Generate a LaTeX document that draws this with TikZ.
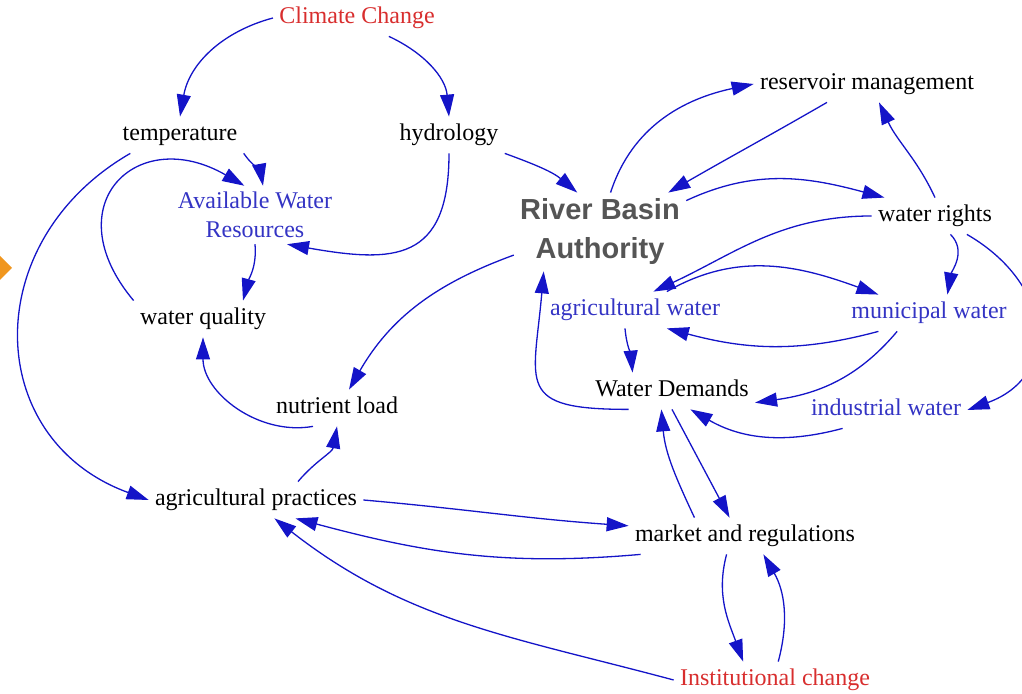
\documentclass[tikz,border=0pt]{standalone}
\usepackage{fontspec}
\setmainfont{Liberation Serif}
\setsansfont{Liberation Sans}
\usetikzlibrary{arrows.meta}
\definecolor{linkCol}{HTML}{1414C8}
\definecolor{resCol}{HTML}{3434C4}
\definecolor{exoCol}{HTML}{D82E2E}
\definecolor{rbaCol}{HTML}{555555}
\definecolor{markCol}{HTML}{F0961E}

\begin{document}
\begin{tikzpicture}[
    x=0.5pt, y=0.5pt,
    >={Triangle[length=11pt,width=7pt]},
    font=\fontsize{12}{14.4}\selectfont,
    var/.style={inner sep=3pt, text height=9pt, text depth=3pt},
    resvar/.style={var, text=resCol},
    exovar/.style={var, text=exoCol},
    link/.style={->, line width=0.65pt, draw=linkCol},
  ]
\useasboundingbox (0,0) rectangle (1022,694);

% Exogenous drivers
\node[exovar] (cc) at (357,676) {Climate Change};
\node[exovar] (ic) at (775,14) {Institutional change};

% Water resources side
\node[var] (temp) at (180,559) {temperature};
\node[var] (hyd) at (449,559) {hydrology};
\node[inner sep=3pt, align=center, text=resCol] (awr) at (255,479) {Available Water\\Resources};
\node[var] (wq) at (203,375) {water quality};
\node[var] (nl) at (337,286) {nutrient load};
\node[var] (ap) at (256,194) {agricultural practices};

% Authority and demands
\node[inner sep=3pt, align=center, text=rbaCol,
      font=\sffamily\bfseries\fontsize{14.5}{19.5}\selectfont] (rba) at (600,462) {River Basin\\Authority};
\node[var] (rm) at (867,610) {reservoir management};
\node[var] (wr) at (935,478) {water rights};
\node[resvar] (agw) at (635,384) {agricultural water};
\node[resvar] (mw) at (929,381) {municipal water};
\node[var] (wd) at (672,303) {Water Demands};
\node[resvar] (iw) at (886,284) {industrial water};
\node[var] (mr) at (745,158) {market and regulations};

% cut-off marker at the left edge
\fill[markCol] (0,438) -- (12,426) -- (0,414) -- cycle;

% Links -- climate and water resources
\draw[link] (cc.west) to[out=195,in=80] (temp.north);
\draw[link] (cc.-30) to[out=-25,in=95] (hyd.north);
\draw[link] (temp.south east) to[out=-55,in=100] ([xshift=4pt]awr.north);
\draw[link] (wq.north west) to[out=130,in=150,looseness=2] (awr.110);
\draw[link] (hyd.south) to[out=-90,in=-10,looseness=1.5] ([xshift=16pt]awr.south);
\draw[link] (hyd.south east) to[out=-20,in=140] (rba.120);
\draw[link] (awr.south) to[out=-85,in=75] ([xshift=20pt]wq.north);
\draw[link] ([xshift=7pt]temp.south west) to[out=210,in=160,looseness=1.3] (ap.west);
\draw[link] ([xshift=-12pt]nl.south) to[out=190,in=-90] (wq.south);
\draw[link] ([xshift=21pt]ap.north) to[out=50,in=-100] (nl.south);
\draw[link] (rba.195) to[out=200,in=60] ([xshift=6pt]nl.north);

% Links -- authority, rights and demands
\draw[link] (rba.75) to[out=72,in=192] (rm.west);
\draw[link] ([xshift=-20pt]rm.south) to[out=210,in=30] (rba.30);
\draw[link] (rba.20) to[out=25,in=165] (wr.160);
\draw[link] (wr.north) to[out=115,in=-65] ([xshift=6pt]rm.south);
\draw[link] (wr.west) to[out=180,in=25] (agw.45);
\draw[link] (agw.30) to[out=30,in=160] (mw.160);
\draw[link] (mw.200) to[out=195,in=-15] (agw.-30);
\draw[link] (wr.-50) to[out=-45,in=80] (mw.45);
\draw[link] (wr.-30) to[out=-30,in=20,looseness=1.45] (iw.east);
\draw[link] ([xshift=-5pt]agw.south) to[out=-85,in=95] (wd.155);
\draw[link] (mw.210) to[out=-130,in=8] (wd.-8);
\draw[link] (wd.-157) to[out=180,in=-95,looseness=1.8] (rba.-145);
\draw[link] (iw.-157) to[out=195,in=-30] (wd.-45);

% Links -- markets and institutions
\draw[link] (wd.south) -- (mr.130);
\draw[link] (mr.160) to[out=115,in=-85] (wd.-120);
\draw[link] (ap.east) to[out=-5,in=176] (mr.175);
\draw[link] (mr.-170) to[out=185,in=-15] (ap.-25);
\draw[link] (ic.west) to[out=165,in=-38] (ap.-45);
\draw[link] (mr.-135) to[out=-105,in=110] (ic.150);
\draw[link] (ic.80) to[out=75,in=-60] (mr.-45);

\end{tikzpicture}
\end{document}
